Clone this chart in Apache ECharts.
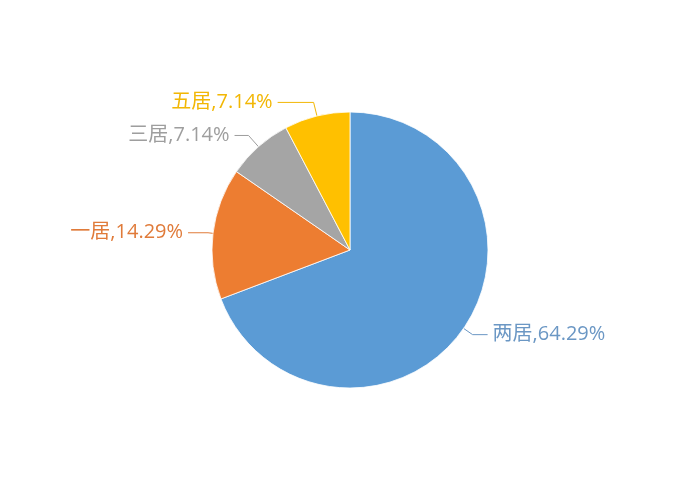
<!DOCTYPE html>
<html><head><meta charset="utf-8">
<script src="https://cdn.jsdelivr.net/npm/echarts@6/dist/echarts.min.js"></script>
<style>html,body{margin:0;padding:0;background:#fff}#c{width:700px;height:500px}</style>
</head><body><div id="c"></div>
<script>
const categories = ['两居', '一居', '三居', '五居'];
const values = [9, 2, 1, 1];
const percentLabels = ['64.29%', '14.29%', '7.14%', '7.14%'];
const colors = ['#5B9BD5', '#ED7D31', '#A5A5A5', '#FFC000'];
const labelColors = ['#6B97C4', '#E07B3A', '#9E9E9E', '#F2B705'];
const lineLen = [11, 5, 15, 14];
const lineLen2 = [15, 20, 14, 36];

const chart = echarts.init(document.getElementById('c'));
chart.setOption({
  animation: false,
  backgroundColor: '#fff',
  series: [{
    type: 'pie',
    center: [350, 250],
    radius: [0, 138],
    startAngle: 90,
    clockwise: true,
    avoidLabelOverlap: true,
    data: categories.map((n, i) => ({
      name: n, value: values[i],
      itemStyle: { color: colors[i] },
      label: { color: labelColors[i] },
      labelLine: { length: lineLen[i], length2: lineLen2[i], lineStyle: { color: labelColors[i] } }
    })),
    itemStyle: { borderColor: '#ffffff', borderWidth: 0.8 },
    label: {
      show: true,
      fontFamily: "'Open Sans', 'Noto Sans CJK SC', sans-serif",
      fontSize: 20,
      distanceToLabelLine: 5,
      formatter: p => p.name + ',' + percentLabels[p.dataIndex]
    },
    labelLine: { show: true, lineStyle: { width: 1 } }
  }]
});
</script></body></html>
